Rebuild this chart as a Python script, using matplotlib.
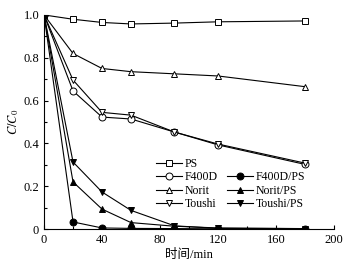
import numpy as np
import matplotlib.pyplot as plt
from matplotlib.ticker import MultipleLocator, FuncFormatter
from matplotlib.lines import Line2D

plt.rcParams['font.family'] = ['Liberation Serif', 'Noto Sans CJK SC']
plt.rcParams['mathtext.fontset'] = 'stix'

# Zeitpunkte in min
t = [0, 20, 40, 60, 90, 120, 180]

# C/C0 Werte
ps = [1.0, 0.98, 0.965, 0.958, 0.962, 0.968, 0.972]
f400d = [1.0, 0.645, 0.523, 0.514, 0.453, 0.393, 0.302]
norit = [1.0, 0.82, 0.75, 0.735, 0.725, 0.715, 0.665]
toushi = [1.0, 0.696, 0.545, 0.532, 0.453, 0.397, 0.308]
f400d_ps = [1.0, 0.033, 0.005, 0.003, 0.002, 0.001, 0.001]
norit_ps = [1.0, 0.22, 0.093, 0.03, 0.013, 0.005, 0.002]
toushi_ps = [1.0, 0.313, 0.173, 0.087, 0.015, 0.003, 0.002]

fig = plt.figure(figsize=(3.61, 2.72), dpi=100)
ax = fig.add_axes([0.122, 0.158, 0.803, 0.787])

kw = dict(color='black', linewidth=0.8, markersize=5, markeredgewidth=0.7)
h_ps, = ax.plot(t, ps, marker='s', markerfacecolor='white', label='PS', **kw)
h_f, = ax.plot(t, f400d, marker='o', markerfacecolor='white', label='F400D', **kw)
h_n, = ax.plot(t, norit, marker='^', markerfacecolor='white', label='Norit', **kw)
h_t, = ax.plot(t, toushi, marker='v', markerfacecolor='white', label='Toushi', **kw)
h_fp, = ax.plot(t, f400d_ps, marker='o', markerfacecolor='black', label='F400D/PS', **kw)
h_np, = ax.plot(t, norit_ps, marker='^', markerfacecolor='black', label='Norit/PS', **kw)
h_tp, = ax.plot(t, toushi_ps, marker='v', markerfacecolor='black', label='Toushi/PS', **kw)

ax.set_xlim(0, 200)
ax.set_ylim(0, 1.0)
ax.xaxis.set_major_locator(MultipleLocator(40))
ax.xaxis.set_minor_locator(MultipleLocator(20))
ax.yaxis.set_major_locator(MultipleLocator(0.2))
ax.yaxis.set_minor_locator(MultipleLocator(0.1))
ax.yaxis.set_major_formatter(FuncFormatter(lambda v, p: '0' if abs(v) < 1e-9 else '%.1f' % v))

ax.spines['top'].set_visible(False)
ax.spines['right'].set_visible(False)
ax.tick_params(direction='in', labelsize=9, length=3, width=0.8)
ax.tick_params(which='minor', direction='in', length=2, width=0.8)

ax.set_xlabel('时间/min', fontsize=9, labelpad=2)
ax.set_ylabel('$C/C_0$', fontsize=9, labelpad=2)

# leerer Eintrag, damit die zweite Spalte eine Zeile tiefer anfaengt
leer = Line2D([], [], linestyle='none', marker=None)
ax.legend(handles=[h_ps, h_f, h_n, h_t, leer, h_fp, h_np, h_tp],
          labels=['PS', 'F400D', 'Norit', 'Toushi', '', 'F400D/PS', 'Norit/PS', 'Toushi/PS'],
          ncol=2, frameon=False, fontsize=8.5, loc='lower right',
          bbox_to_anchor=(0.9, 0.088), handlelength=2.2, handletextpad=0.2,
          columnspacing=0.8, labelspacing=0.12, borderaxespad=0, borderpad=0)

fig.savefig('out.png', dpi=100)
